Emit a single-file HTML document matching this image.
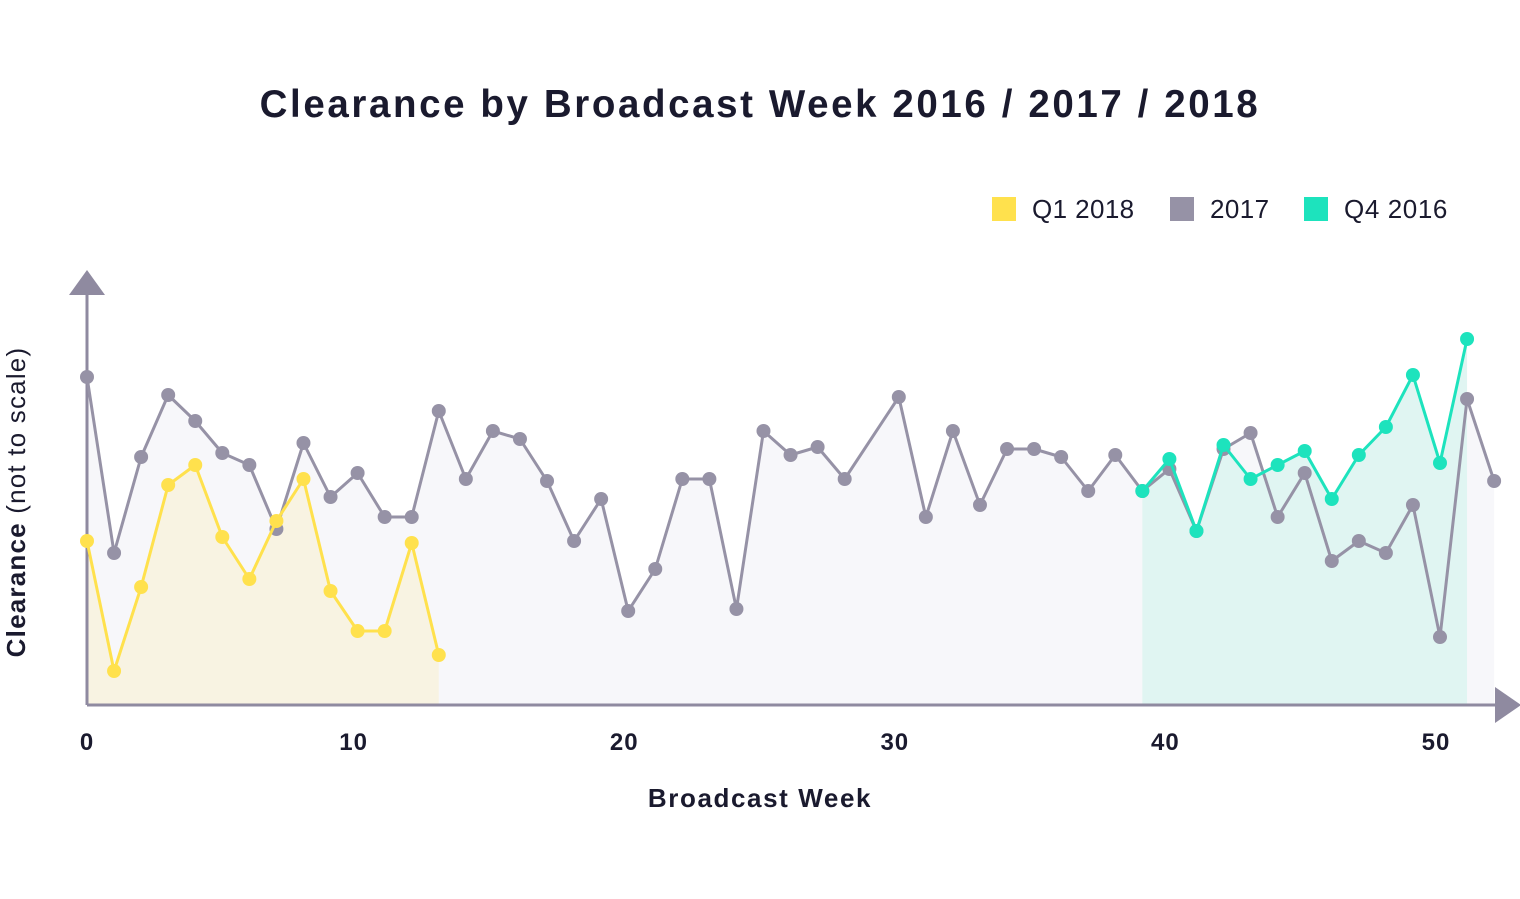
<!DOCTYPE html>
<html><head><meta charset="utf-8"><style>
body{margin:0;background:#fff;font-family:"Liberation Sans",sans-serif}
svg text{font-family:"Liberation Sans",sans-serif;fill:#1a1a2e}
</style></head><body>
<svg id="c" width="1520" height="894">
<text x="760" y="117" text-anchor="middle" font-size="38.5" font-weight="bold" letter-spacing="2.6">Clearance by Broadcast Week 2016 / 2017 / 2018</text>
<g>
<rect x="992" y="197" width="24" height="24" fill="#ffe14d"/>
<text x="1032" y="218" font-size="26" letter-spacing="0.4">Q1 2018</text>
<rect x="1170" y="197" width="24" height="24" fill="#9692a6"/>
<text x="1210" y="218" font-size="26" letter-spacing="0.4">2017</text>
<rect x="1304" y="197" width="24" height="24" fill="#1de3bd"/>
<text x="1344" y="218" font-size="26" letter-spacing="0.6">Q4 2016</text>
</g>
<g id="plot"></g>
<text x="760" y="807" text-anchor="middle" font-size="26" font-weight="bold" letter-spacing="1.6">Broadcast Week</text>
<text transform="translate(25,502) rotate(-90)" text-anchor="middle" font-size="26" letter-spacing="1.2"><tspan font-weight="bold">Clearance</tspan> (not to scale)</text>
</svg>
<script>
const weeks2017 = [0,1,2,3,4,5,6,7,8,9,10,11,12,13,14,15,16,17,18,19,20,21,22,23,24,25,26,27,28,30,31,32,33,34,35,36,37,38,39,40,41,42,43,44,45,46,47,48,49,50,51,52];
const values2017 = [328,152,248,310,284,252,240,176,262,208,232,188,188,294,226,274,266,224,164,206,94,136,226,226,96,274,250,258,226,308,188,274,200,256,256,248,214,250,214,236,174,256,272,188,232,144,164,152,200,68,306,224];
const weeksQ1 = [0,1,2,3,4,5,6,7,8,9,10,11,12,13];
const valuesQ1 = [164,34,118,220,240,168,126,184,226,114,74,74,162,50];
const weeksQ4 = [39,40,41,42,43,44,45,46,47,48,49,50,51];
const valuesQ4 = [214,246,174,260,226,240,254,206,250,278,330,242,366];
const xTicks = [0,10,20,30,40,50];

const x0=87, base=705, pxWeek=27.06;
const X = w => x0 + w*pxWeek;
const Y = v => base - v;
const NS="http://www.w3.org/2000/svg";
const plot=document.getElementById('plot');
function mk(tag,attrs){const e=document.createElementNS(NS,tag);for(const k in attrs)e.setAttribute(k,attrs[k]);plot.appendChild(e);return e;}

function area(ws,vs,fill,name){
  let d=`M${X(ws[0])},${base}`;
  ws.forEach((w,i)=>d+=` L${X(w)},${Y(vs[i])}`);
  d+=` L${X(ws[ws.length-1])},${base} Z`;
  const p=mk('path',{d,fill});
  
  
}
function line(ws,vs,color,name){
  const pts=ws.map((w,i)=>`${X(w)},${Y(vs[i])}`).join(' ');
  const l=mk('polyline',{points:pts,fill:'none',stroke:color,'stroke-width':3,'stroke-linejoin':'round'});
  
  
  ws.forEach((w,i)=>{
    const c=mk('circle',{cx:X(w),cy:Y(vs[i]),r:7,fill:color});
    
    
  });
}
area(weeks2017,values2017,'#f7f7fa','area-2017');
area(weeksQ1,valuesQ1,'#f8f3e2','area-q1-2018');
area(weeksQ4,valuesQ4,'#e0f5f2','area-q4-2016');

const ax=mk('path',{d:`M${x0},${base} L${x0},290 M${x0},${base} L1500,${base}`,stroke:'#8f8aa0','stroke-width':3,fill:'none'});


const ua=mk('polygon',{points:`${x0-18},295 ${x0},270 ${x0+18},295`,fill:'#8f8aa0'});


const ra=mk('polygon',{points:`1495,687 1521,705 1495,723`,fill:'#8f8aa0'});



line(weeks2017,values2017,'#9692a6','series-2017');
line(weeksQ1,valuesQ1,'#ffe14d','series-q1-2018');
line(weeksQ4,valuesQ4,'#1de3bd','series-q4-2016');

xTicks.forEach(t=>{
  const tx=mk('text',{x:X(t)-(t>0?4:0),y:750,'text-anchor':'middle','font-size':24,'font-weight':'bold','letter-spacing':1});
  tx.textContent=t;
  
  
});
</script>
</body></html>
